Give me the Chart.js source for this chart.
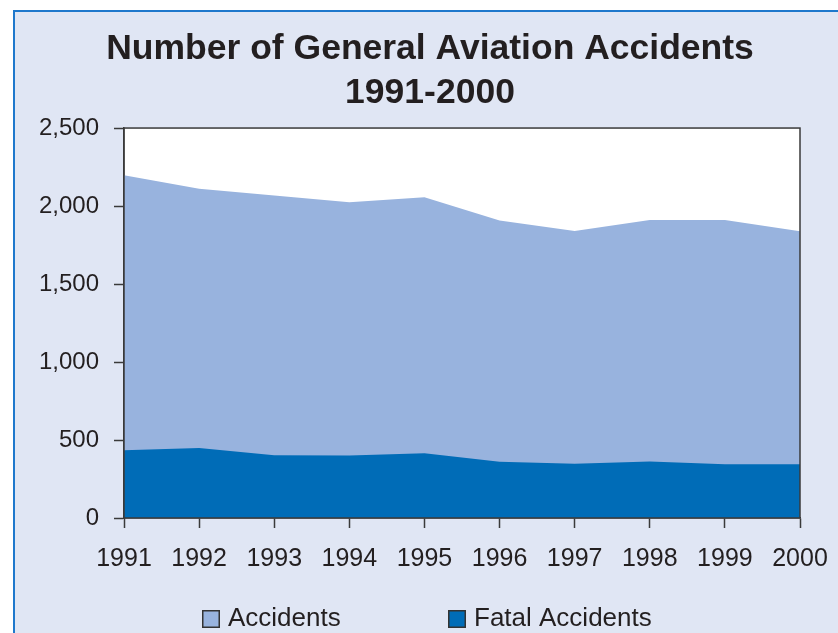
<!DOCTYPE html>
<html>
<head>
<meta charset="utf-8">
<script src="https://cdn.jsdelivr.net/npm/chart.js@4"></script>
<style>
  html, body { margin: 0; padding: 0; background: #fff; }
  #wrap { width: 838px; height: 633px; }
</style>
</head>
<body>
<div id="wrap"><canvas id="accChart" width="838" height="633"></canvas></div>
<script>
/* general aviation accidents 1991-2000, area chart */

const years = ['1991','1992','1993','1994','1995','1996','1997','1998','1999','2000'];
const accidents = [2198, 2110, 2068, 2025, 2056, 1908, 1840, 1910, 1910, 1838];
const fatalAccidents = [435, 448, 402, 400, 415, 360, 348, 362, 345, 345];
const yTicks = [0, 500, 1000, 1500, 2000, 2500];

const seriesNames = ['Accidents', 'Fatal Accidents'];
const lightBlue = '#98b3de';
const darkBlue = '#006cb7';
const inkColor = '#231f20';
const axisColor = '#3a3a3a';

Chart.defaults.font.family = '"Liberation Sans", Arial, sans-serif';
Chart.defaults.color = inkColor;

// lavender panel + white plot area + box border
const backdrop = {
  id: 'backdrop',
  beforeDraw(chart){
    const {ctx, width, height, chartArea: a} = chart;
    ctx.save();
    ctx.fillStyle = '#fff';
    ctx.fillRect(0, 0, width, height);
    ctx.fillStyle = '#e0e6f4';
    ctx.fillRect(13, 10, width - 13, height - 10);
    ctx.strokeStyle = '#1f78cc';
    ctx.lineWidth = 2;
    ctx.beginPath();
    ctx.moveTo(14, height); ctx.lineTo(14, 11); ctx.lineTo(width, 11);
    ctx.stroke();
    ctx.fillStyle = '#fff';
    ctx.fillRect(a.left, a.top, a.right - a.left, a.bottom - a.top);
    ctx.restore();
  },
  afterDraw(chart){
    const {ctx, chartArea: a} = chart;
    ctx.save();
    ctx.strokeStyle = axisColor;
    ctx.lineWidth = 1.5;
    ctx.strokeRect(a.left, a.top, a.right - a.left, a.bottom - a.top);
    ctx.restore();
  }
};

// legend drawn by hand so the gap between items matches
const boxLegend = {
  id: 'boxLegend',
  afterDraw(chart){
    const {ctx} = chart;
    const items = [
      {text: seriesNames[0], color: lightBlue, x: 202},
      {text: seriesNames[1], color: darkBlue, x: 448}
    ];
    ctx.save();
    ctx.font = '26px "Liberation Sans", Arial, sans-serif';
    ctx.textBaseline = 'middle';
    ctx.textAlign = 'left';
    items.forEach(it => {
      ctx.fillStyle = it.color;
      ctx.fillRect(it.x, 610, 18, 18);
      ctx.strokeStyle = '#333';
      ctx.lineWidth = 1.5;
      ctx.strokeRect(it.x + 0.75, 610.75, 16.5, 16.5);
      ctx.fillStyle = inkColor;
      ctx.fillText(it.text, it.x + 26, 619);
    });
    ctx.restore();
  }
};

const ctx = document.getElementById('accChart').getContext('2d');
new Chart(ctx, {
  type: 'line',
  data: {
    labels: years,
    datasets: [
      { label: seriesNames[0], data: accidents, backgroundColor: lightBlue, borderWidth: 0,
        fill: 'origin', pointRadius: 0, order: 2 },
      { label: seriesNames[1], data: fatalAccidents, backgroundColor: darkBlue, borderWidth: 0,
        fill: 'origin', pointRadius: 0, order: 1 }
    ]
  },
  options: {
    responsive: false,
    animation: false,
    layout: { padding: { left: 22, right: 0, top: 0, bottom: 0 } },
    plugins: {
      legend: { display: false },
      tooltip: { enabled: false },
      title: {
        display: true,
        text: ['Number of General Aviation Accidents', '1991-2000'],
        font: { size: 35.5, weight: 'bold', lineHeight: 1.24 },
        color: inkColor,
        padding: { top: 27, bottom: 13 }
      }
    },
    scales: {
      x: {
        offset: false,
        grid: { drawOnChartArea: false, drawTicks: true, tickLength: 10, tickColor: axisColor, tickWidth: 1.5 },
        border: { color: axisColor, width: 1.5 },
        ticks: { font: { size: 25 }, color: inkColor, padding: 16, maxRotation: 0, autoSkip: false },
        afterFit(s){ s.height = 115; s.paddingLeft = 0; s.paddingRight = 0; }
      },
      y: {
        min: 0, max: 2500,
        afterBuildTicks(s){ s.ticks = yTicks.map(v => ({value: v})); },
        grid: { drawOnChartArea: false, drawTicks: true, tickLength: 10, tickColor: axisColor, tickWidth: 1.5 },
        border: { color: axisColor, width: 1.5 },
        ticks: { font: { size: 24 }, color: inkColor, padding: 15,
          callback: v => v.toLocaleString('en-US') },
        afterFit(s){ s.width = 102; }
      },
      yr: {
        position: 'right',
        display: true,
        grid: { display: false },
        border: { display: false },
        ticks: { display: false },
        afterFit(s){ s.width = 38; }
      }
    }
  },
  plugins: [backdrop, boxLegend]
});
</script>
</body>
</html>
